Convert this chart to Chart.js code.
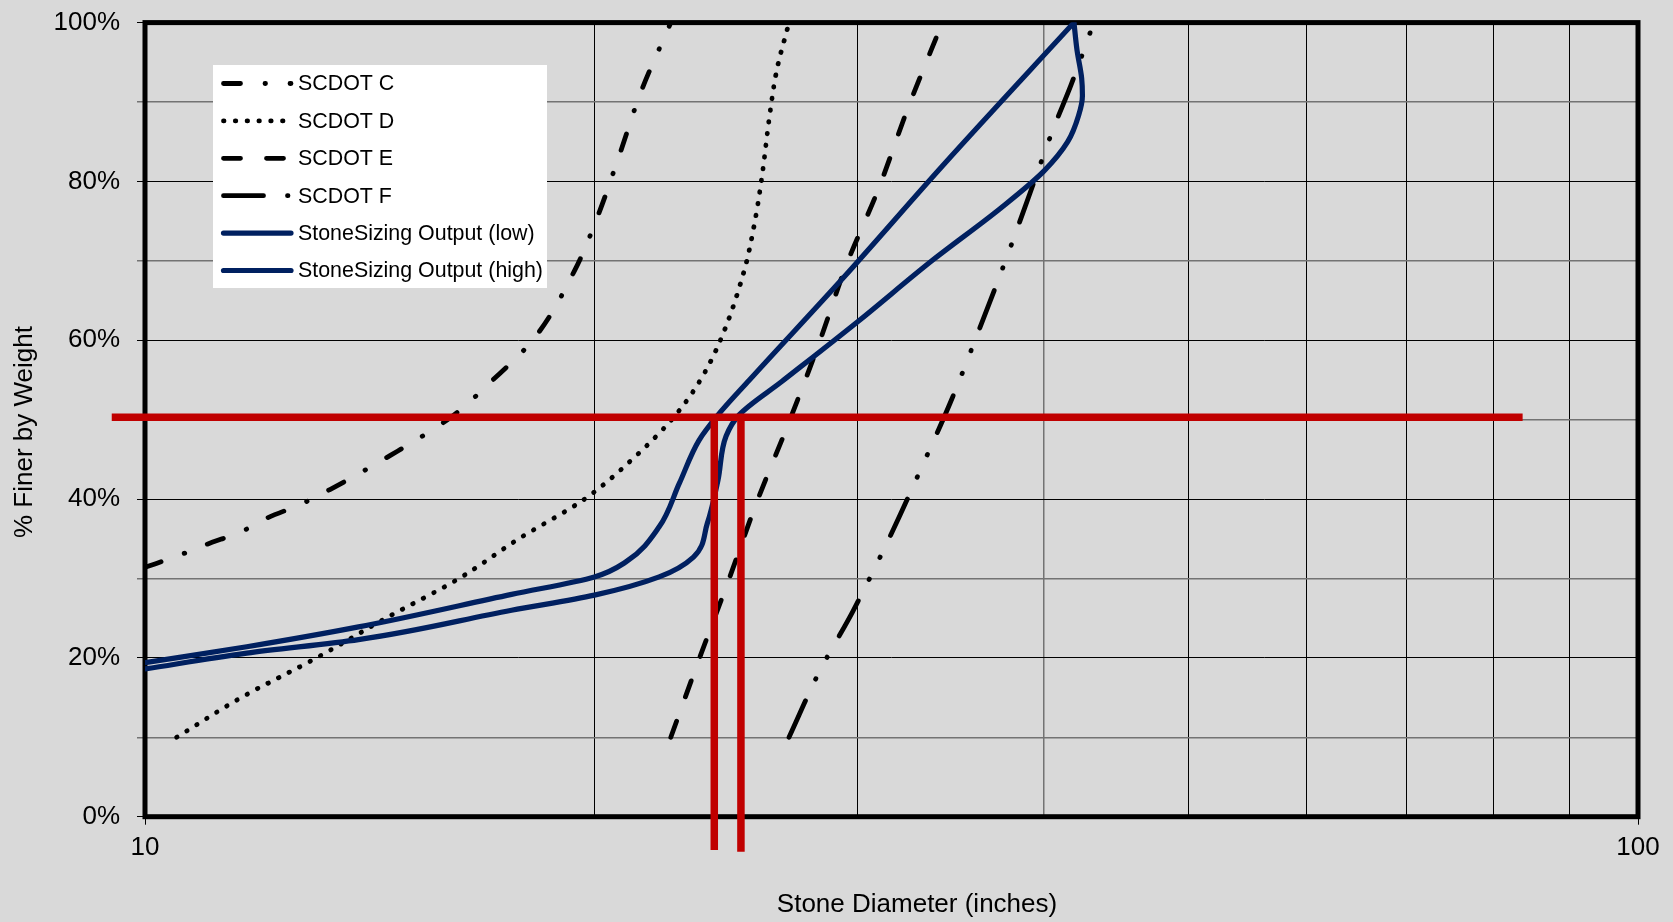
<!DOCTYPE html>
<html>
<head>
<meta charset="utf-8">
<title>Stone Gradation</title>
<script src="https://cdn.jsdelivr.net/npm/chart.js@4.4.1/dist/chart.umd.min.js"></script>
<style>
  html, body { margin: 0; padding: 0; background: #d9d9d9; }
  canvas { display: block; }
</style>
</head>
<body>
<canvas id="gradation" width="1673" height="922"></canvas>
<script>
// stone diameter (inches) and % finer by weight
const scdotC_in  = [10.0, 10.5, 11.0, 11.6, 12.1, 12.7, 13.3, 14.6, 16.0, 17.1, 18.2, 19.4, 20.1, 20.8, 21.5, 22.5];
const scdotC_pct = [31.4, 32.8, 34.3, 35.9, 37.7, 39.3, 41.2, 45.5, 50.2, 55.0, 60.1, 68.8, 75.6, 83.5, 91.4, 100];

const scdotD_in  = [10.5, 11.6, 13.0, 14.5, 16.2, 17.8, 19.7, 21.2, 22.6, 23.5, 24.3, 25.2, 25.6, 25.9, 26.2, 26.5, 27.0];
const scdotD_pct = [10.0, 15.0, 19.9, 25.0, 29.9, 35.0, 40.0, 45.0, 50.3, 54.7, 60.1, 68.8, 74.7, 80.7, 88.2, 94.1, 100];

const scdotE_in  = [22.5, 23.5, 24.6, 25.7, 27.0, 28.3, 29.5, 31.0, 32.4, 34.2];
const scdotE_pct = [10.0, 19.8, 29.8, 39.7, 49.7, 59.8, 69.5, 79.1, 89.0, 100];

const scdotF_in  = [27.0, 28.3, 29.8, 31.7, 33.2, 34.6, 36.4, 37.8, 39.2, 40.6, 41.7, 43.2];
const scdotF_pct = [10.0, 18.3, 25.9, 36.1, 44.4, 52.0, 62.5, 70.6, 78.8, 86.7, 92.1, 100];

const outLow_in  = [10.0, 11.7, 13.9, 17.6, 20.0, 21.0, 22.1, 22.8, 23.5, 24.2, 25.4, 29.4, 34.3, 41.9];
const outLow_pct = [19.4, 21.4, 23.9, 28.0, 30.2, 32.1, 36.5, 42.0, 47.4, 50.6, 55.0, 68.0, 82.2, 100];

const outHigh_in  = [10.0, 11.7, 13.9, 17.6, 20.0, 22.1, 23.3, 23.8, 24.2, 24.5, 25.0, 26.7, 30.0, 33.7, 37.4, 40.0, 41.5, 42.2, 42.45, 42.4, 42.1, 41.9];
const outHigh_pct = [18.6, 20.6, 22.3, 26.0, 27.9, 30.2, 32.7, 36.9, 42.4, 47.9, 50.6, 54.8, 62.3, 70.1, 76.6, 81.3, 85.0, 88.3, 90.8, 93.0, 96.5, 100];

// D50 marker lines
const d50Line_in  = [9.5, 83.7];
const d50Line_pct = [50.3, 50.3];
const d50Low_in   = [24.06, 24.06];
const d50Low_pct  = [50.3, -4.2];
const d50High_in  = [25.07, 25.07];
const d50High_pct = [50.3, -4.4];

const xTickValues = [10, 20, 30, 40, 50, 60, 70, 80, 90, 100];
const xTickLabels = ['10', '', '', '', '', '', '', '', '', '100'];
const yTickValues = [0, 10, 20, 30, 40, 50, 60, 70, 80, 90, 100];
const yTickLabels = ['0%', '', '20%', '', '40%', '', '60%', '', '80%', '', '100%'];

const xTitle = 'Stone Diameter (inches)';
const yTitle = '% Finer by Weight';

const FONT = "'Liberation Sans', Arial, sans-serif";
const NAVY = '#002060';
const RED = '#c00000';

function pts(xs, ys) {
    return xs.map((x, i) => ({ x: x, y: ys[i] }));
}

// curves rise with % finer, so they are interpolated along y
function gradation(label, xs, ys, dash) {
    return {
        label: label,
        data: pts(xs, ys),
        indexAxis: 'y',
        borderColor: '#000',
        borderWidth: 4.8,
        borderDash: dash,
        borderCapStyle: 'round',
        borderJoinStyle: 'round',
        cubicInterpolationMode: 'monotone',
        pointRadius: 0,
        order: 2
    };
}

function output(label, xs, ys) {
    return {
        label: label,
        data: pts(xs, ys),
        indexAxis: 'y',
        borderColor: NAVY,
        borderWidth: 5.2,
        borderCapStyle: 'round',
        borderJoinStyle: 'round',
        cubicInterpolationMode: 'monotone',
        pointRadius: 0,
        order: 1
    };
}

function marker(xs, ys) {
    return {
        label: 'D50',
        data: pts(xs, ys),
        borderColor: RED,
        borderWidth: 7.5,
        borderCapStyle: 'butt',
        tension: 0,
        pointRadius: 0,
        clip: false,
        hideInLegend: true,
        order: 0
    };
}

// legend box sits inside the plot, upper left
const insideLegend = {
    id: 'insideLegend',
    afterDatasetsDraw(chart) {
        const ctx = chart.ctx;
        const items = chart.data.datasets.filter(d => !d.hideInLegend);
        ctx.save();
        ctx.fillStyle = '#fff';
        ctx.fillRect(213, 65, 334, 223);
        items.forEach((d, i) => {
            const y = 83.5 + i * 37.4;
            ctx.beginPath();
            ctx.setLineDash(d.borderDash || []);
            ctx.lineWidth = d.borderWidth;
            ctx.strokeStyle = d.borderColor;
            ctx.lineCap = d.borderCapStyle || 'butt';
            ctx.moveTo(223.5, y);
            ctx.lineTo(291, y);
            ctx.stroke();
            ctx.setLineDash([]);
            ctx.fillStyle = '#000';
            ctx.font = '21.4px ' + FONT;
            ctx.textAlign = 'left';
            ctx.textBaseline = 'middle';
            ctx.fillText(d.label, 298, y + 1);
        });
        ctx.restore();
    }
};

// thick frame round the plot area, under the data
const plotFrame = {
    id: 'plotFrame',
    beforeDatasetsDraw(chart) {
        const a = chart.chartArea;
        const ctx = chart.ctx;
        ctx.save();
        ctx.strokeStyle = '#000';
        ctx.lineWidth = 5;
        ctx.strokeRect(a.left, a.top, a.right - a.left, a.bottom - a.top);
        ctx.restore();
    }
};

const axisTitles = {
    id: 'axisTitles',
    afterDraw(chart) {
        const ctx = chart.ctx;
        ctx.save();
        ctx.fillStyle = '#000';
        ctx.font = '26px ' + FONT;
        ctx.textAlign = 'center';
        ctx.textBaseline = 'middle';
        ctx.fillText(xTitle, 917, 905);
        ctx.translate(25, 432);
        ctx.rotate(-Math.PI / 2);
        ctx.fillText(yTitle, 0, 0);
        ctx.restore();
    }
};

const ctx = document.getElementById('gradation').getContext('2d');
new Chart(ctx, {
    type: 'line',
    data: {
        datasets: [
            gradation('SCDOT C', scdotC_in, scdotC_pct, [17, 24.5, 0.5, 24.5]),
            gradation('SCDOT D', scdotD_in, scdotD_pct, [0.5, 11.3]),
            gradation('SCDOT E', scdotE_in, scdotE_pct, [17, 26]),
            gradation('SCDOT F', scdotF_in, scdotF_pct, [40, 24, 0.5, 24, 0.5, 24]),
            output('StoneSizing Output (low)', outLow_in, outLow_pct),
            output('StoneSizing Output (high)', outHigh_in, outHigh_pct),
            marker(d50Line_in, d50Line_pct),
            marker(d50Low_in, d50Low_pct),
            marker(d50High_in, d50High_pct)
        ]
    },
    options: {
        responsive: false,
        animation: false,
        events: [],
        devicePixelRatio: 1,
        layout: { padding: { top: 22.6, right: 35, left: 0, bottom: 0 } },
        plugins: {
            legend: { display: false },
            tooltip: { enabled: false }
        },
        scales: {
            x: {
                type: 'logarithmic',
                min: 10,
                max: 100,
                afterBuildTicks: s => { s.ticks = xTickValues.map(v => ({ value: v })); },
                afterFit: s => { s.height = 105.3; s.paddingLeft = 0; s.paddingRight = 0; },
                ticks: {
                    autoSkip: false,
                    maxRotation: 0,
                    padding: 8,
                    color: '#000',
                    font: { family: FONT, size: 26 },
                    callback: (v, i) => xTickLabels[i]
                },
                grid: {
                    color: c => (c.tick && c.tick.value === 40) ? '#737373' : '#000',
                    lineWidth: c => (c.tick && c.tick.value === 40) ? 1.5 : 1,
                    tickLength: 8,
                    tickColor: c => (c.tick && (c.tick.value === 10 || c.tick.value === 100)) ? '#000' : 'rgba(0,0,0,0)'
                },
                border: { display: false }
            },
            y: {
                min: 0,
                max: 100,
                afterBuildTicks: s => { s.ticks = yTickValues.map(v => ({ value: v })); },
                afterFit: s => { s.width = 145; s.paddingTop = 0; s.paddingBottom = 0; },
                ticks: {
                    padding: 17,
                    color: '#000',
                    font: { family: FONT, size: 26 },
                    callback: (v, i) => yTickLabels[i]
                },
                grid: {
                    color: c => (c.tick && c.tick.value % 20 === 0) ? '#000' : '#737373',
                    lineWidth: c => (c.tick && c.tick.value % 20 === 0) ? 1 : 1.5,
                    tickLength: 8
                },
                border: { display: false }
            }
        }
    },
    plugins: [plotFrame, insideLegend, axisTitles]
});
</script>
</body>
</html>
